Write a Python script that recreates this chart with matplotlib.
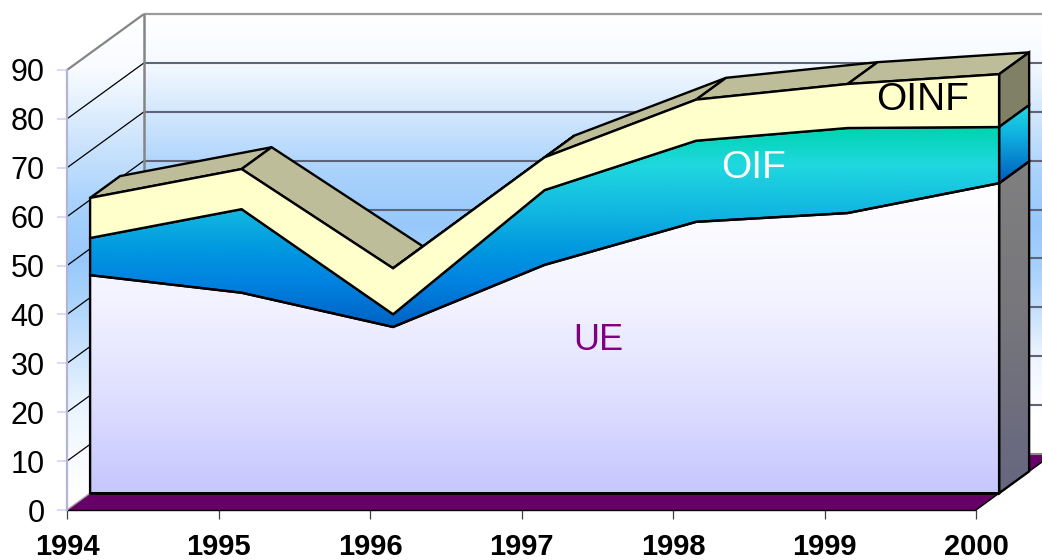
import numpy as np
import matplotlib
matplotlib.use("Agg")
import matplotlib.pyplot as plt
from matplotlib.patches import Polygon
from matplotlib.colors import LinearSegmentedColormap

plt.rcParams['font.family'] = ['Liberation Sans', 'DejaVu Sans']

# ---- data -------------------------------------------------------------
years = [1994, 1995, 1996, 1997, 1998, 1999, 2000]
ue = [44.6, 41.0, 34.0, 46.7, 55.5, 57.3, 63.4]
oif = [7.6, 17.1, 2.6, 15.3, 16.6, 17.4, 11.5]
oinf = [8.2, 8.2, 9.4, 6.7, 8.4, 9.0, 10.8]
yticks = list(range(0, 100, 10))

# ---- layout -----------------------------------------------------------
W, H = 1042, 560
fig = plt.figure(figsize=(W / 100, H / 100), dpi=100, facecolor='white')
ax = fig.add_axes([67 / W, 1 - 510 / H, (976 - 67) / W, (510 - 70) / H])
ax.set_facecolor('none')
ax.set_xlim(1994, 2000)
ax.set_ylim(0, 90)

PX_YEAR = (976 - 67) / 6
PX_VAL = (510 - 70) / 90
DX = 77 / PX_YEAR      # years per unit depth
DY = 56 / PX_VAL       # value units per unit depth
D0, D1 = 0.30, 0.69    # depth of the front and back of the areas


def proj(x, v, d):
    return x + d * DX, v + d * DY


def px2v(py):
    return (510 - py) / PX_VAL


def gradient(xy, stops, z):
    """Fill polygon xy with a vertical gradient; stops = [(pixel y, colour)]."""
    ys = np.array([s[0] for s in stops], float)
    y0, y1 = ys.min(), ys.max()
    cmap = LinearSegmentedColormap.from_list(
        'g', [((y - y0) / (y1 - y0), c) for y, c in stops])
    arr = np.linspace(0, 1, 512)[:, None]
    im = ax.imshow(arr, cmap=cmap, vmin=0, vmax=1, aspect='auto', origin='upper',
                   extent=(1993, 2002, px2v(y1), px2v(y0)), zorder=z,
                   interpolation='bilinear')
    im.set_clip_box(fig.bbox)
    im.set_clip_path(Polygon(xy, closed=True, transform=ax.transData))
    return im


def poly(xy, z, face='none', edge='black', lw=1.7):
    ax.add_patch(Polygon(xy, closed=True, facecolor=face, edgecolor=edge, lw=lw,
                         zorder=z, clip_on=False, joinstyle='miter'))


def line(p, q, color, lw, z):
    ax.plot([p[0], q[0]], [p[1], q[1]], color=color, lw=lw, zorder=z,
            clip_on=False, solid_capstyle='butt')


x0, xN = years[0], years[-1]
back_stops = [(15, '#ffffff'), (60, '#f6faff'), (110, '#d4e8fd'), (170, '#aad3fc'),
              (225, '#98c8fb'), (265, '#a5d0fb'), (310, '#c5e0fd'), (357, '#eef5ff'),
              (417, '#ffffff'), (500, '#ffffff')]
left_stops = [(15, '#ffffff'), (70, '#f8fbff'), (130, '#d4e8fd'), (200, '#aad3fc'),
              (260, '#98c8fb'), (297, '#a8d2fc'), (347, '#c8e2fd'), (397, '#e6f2ff'),
              (447, '#f6faff'), (500, '#ffffff')]

# walls
back = [proj(x0, 0, 1), proj(xN, 0, 1), proj(xN, 90, 1), proj(x0, 90, 1)]
left = [proj(x0, 0, 0), proj(x0, 0, 1), proj(x0, 90, 1), proj(x0, 90, 0)]
gradient(back, back_stops, 1)
gradient(left, left_stops, 1)

# gridlines
for v in yticks[1:-1]:
    line(proj(x0, v, 0), proj(x0, v, 1), 'black', 0.9, 2)
    line(proj(x0, v, 1), proj(xN, v, 1), '#5f6478', 1.5, 2)
line(proj(x0, 90, 0), proj(x0, 90, 1), '#858585', 1.6, 2)
line(proj(x0, 90, 1), proj(xN, 90, 1), '#9a9a9a', 1.6, 2)
line(proj(x0, 0, 1), proj(x0, 90, 1), '#858585', 1.8, 2)

# floor
poly([proj(x0, 0, 0), proj(xN, 0, 0), proj(xN, 0, 1), proj(x0, 0, 1)], 3,
     face='#660066', edge='none', lw=0)
line(proj(x0, 0, 0), proj(xN, 0, 0), 'black', 1.0, 3.1)
line(proj(xN, 0, 0), proj(xN, 0, 1), 'black', 1.0, 3.1)
line(proj(x0, 0, 0), proj(x0, 0, 1), '#a0a0a0', 1.0, 3.1)
line(proj(x0, 0, 1), proj(xN, 0, 1), '#8a8a8a', 1.5, 3.1)

# stacked boundaries
ue_top = np.array(ue)
oif_top = ue_top + np.array(oif)
oinf_top = oif_top + np.array(oinf)
xs = np.array(years, float)

# top surface of the stack
for i in range(len(xs) - 1):
    quad = [proj(xs[i], oinf_top[i], D0), proj(xs[i + 1], oinf_top[i + 1], D0),
            proj(xs[i + 1], oinf_top[i + 1], D1), proj(xs[i], oinf_top[i], D1)]
    poly(quad, 4, face='#bdbd99')

# right-hand side faces
xe = xs[-1]


def side(lo, hi):
    return [proj(xe, lo, D0), proj(xe, lo, D1), proj(xe, hi, D1), proj(xe, hi, D0)]


poly(side(oif_top[-1], oinf_top[-1]), 5, face='#808066')
s2 = side(ue_top[-1], oif_top[-1])
gradient(s2, [(105, '#22dce0'), (135, '#10b0e0'), (180, '#0060c0')], 5)
poly(s2, 5.1)
s3 = side(0, ue_top[-1])
gradient(s3, [(160, '#808080'), (320, '#76767c'), (490, '#666680')], 5)
poly(s3, 5.1)


# front faces
def front(lo, hi):
    a = [proj(x, v, D0) for x, v in zip(xs, hi)]
    b = [proj(x, v, D0) for x, v in zip(xs[::-1], np.asarray(lo)[::-1])]
    return a + b


base = np.zeros_like(xs)
f1 = front(base, ue_top)
gradient(f1, [(183, '#ffffff'), (300, '#f3f3ff'), (400, '#dedeff'), (493, '#c6c6ff')], 6)
poly(f1, 6.1)
f2 = front(ue_top, oif_top)
gradient(f2, [(128, '#00d4b0'), (165, '#20d8e0'), (215, '#10b4e0'), (250, '#0098e0'),
              (285, '#0080e0'), (330, '#0060c0')], 6)
poly(f2, 6.1)
poly(front(oif_top, oinf_top), 6.2, face='#ffffcc')
line(proj(x0, 0, D0), proj(xe, 0, D0), 'black', 2.0, 6.3)

# ticks and labels
for s in ['top', 'right', 'bottom']:
    ax.spines[s].set_visible(False)
ax.spines['left'].set_color('#b4b4d8')
ax.spines['left'].set_linewidth(1.6)
ax.spines['left'].set_zorder(3.2)
ax.set_xticks(years)
ax.set_xticklabels([str(y) for y in years], fontsize=21, fontweight='bold', color='black')
ax.set_yticks(yticks)
ax.set_yticklabels([str(v) for v in yticks], fontsize=22, color='black')
ax.tick_params(axis='x', length=6.5, width=0.9, color='#404040', pad=10)
ax.tick_params(axis='y', length=7, width=1.4, color='#d8d8ff', pad=9)

# series labels placed from the data
ax.text(1997.51, px2v(340), 'UE', fontsize=26, color='#800080', ha='center', va='center', zorder=7)
ax.text(1998.53, px2v(168), 'OIF', fontsize=28, color='white', ha='center', va='center', zorder=7)
ax.text(1999.65, px2v(100), 'OINF', fontsize=28, color='black', ha='center', va='center', zorder=7)

ax.set_xlim(1994, 2000)
ax.set_ylim(0, 90)
fig.savefig('out.png', dpi=100)
